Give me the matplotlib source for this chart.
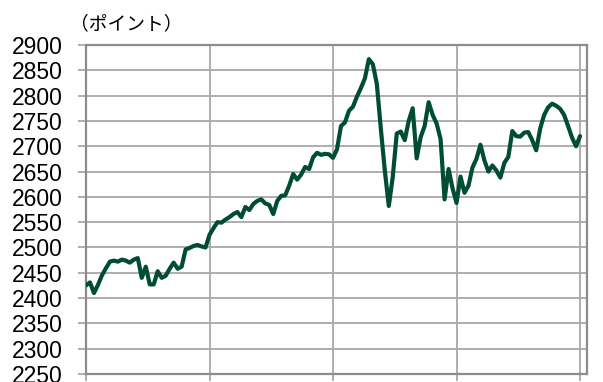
import matplotlib
matplotlib.use("Agg")
import matplotlib.pyplot as plt
import numpy as np

# Index level, sampled at regular intervals over one year
values = [
    2425, 2431, 2410, 2426, 2445, 2459, 2472, 2474, 2472, 2476,
    2474, 2470, 2476, 2479, 2440, 2462, 2427, 2427, 2453, 2440,
    2444, 2458, 2470, 2458, 2462, 2496, 2499, 2503, 2505, 2502,
    2500, 2525, 2538, 2550, 2549, 2555, 2560, 2566, 2570, 2560,
    2580, 2574, 2586, 2592, 2595, 2587, 2584, 2566, 2592, 2602,
    2603, 2622, 2645, 2634, 2644, 2659, 2655, 2678, 2687, 2683,
    2685, 2684, 2677, 2694, 2740, 2747, 2770, 2778, 2798, 2815,
    2834, 2872, 2862, 2823, 2735, 2652, 2582, 2640, 2725, 2729,
    2712, 2750, 2775, 2676, 2718, 2740, 2787, 2762, 2745, 2714,
    2595, 2655, 2617, 2588, 2640, 2608, 2622, 2658, 2675, 2703,
    2672, 2650, 2662, 2652, 2638, 2667, 2679, 2730, 2720, 2719,
    2727, 2728, 2712, 2692, 2735, 2762, 2777, 2784, 2780, 2774,
    2762, 2740, 2717, 2700, 2720,
]
quarter_ticks = [0, 31, 62, 93, 124]
y_ticks = list(range(2250, 2901, 50))
unit_label = "（ポイント）"

plt.rcParams['font.family'] = ['Liberation Sans', 'Noto Sans CJK JP', 'DejaVu Sans']

fig = plt.figure(figsize=(6.03, 3.82), dpi=100)
ax = fig.add_axes([86 / 603, 8 / 382, (587 - 86) / 603, (374 - 45) / 382])

x = np.arange(len(values))
ax.plot(x, values, color='#004d33', linewidth=3.0, solid_joinstyle='round',
        solid_capstyle='round', zorder=3)

ax.set_xlim(0, 125.75)
ax.set_ylim(2250, 2900)
ax.set_yticks(y_ticks)
ax.set_yticklabels([str(v) for v in y_ticks])
ax.set_xticks(quarter_ticks)
ax.set_xticklabels([])

ax.grid(True, color='#a8a8a8', linewidth=1.3, zorder=1)
ax.tick_params(axis='y', length=6, width=1.3, color='#a8a8a8', pad=11,
               labelsize=16.5, labelcolor='black')
ax.tick_params(axis='x', length=5, width=1.3, color='#a8a8a8')

for side in ['left', 'right', 'top', 'bottom']:
    ax.spines[side].set_color('#8c8c8c')
    ax.spines[side].set_linewidth(1.6)

fig.text(70 / 603, 1 - 24 / 382, unit_label, ha='left', va='center',
         fontsize=13.5, family=['Noto Sans CJK JP', 'DejaVu Sans'])

fig.savefig('out.png', dpi=100)
